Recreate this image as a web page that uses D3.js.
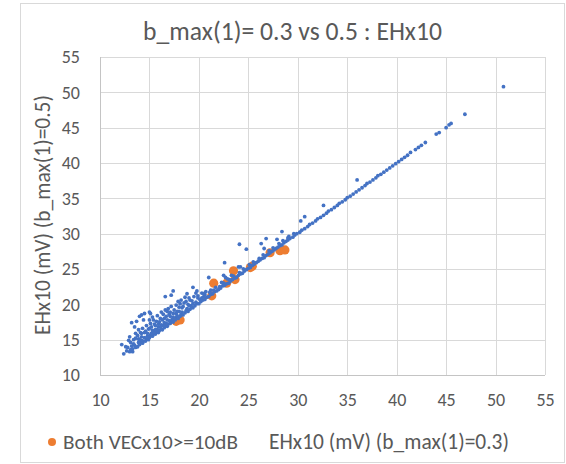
<!DOCTYPE html>
<html>
<head>
<meta charset="utf-8">
<script src="https://cdn.jsdelivr.net/npm/d3@7"></script>
<style>
  html, body { margin: 0; padding: 0; background: #fff; }
  svg { display: block; }
</style>
</head>
<body>
<svg id="chart" width="566" height="464"></svg>
<script>
// Axis ticks (both axes share the same range)
const tickValues = [10, 15, 20, 25, 30, 35, 40, 45, 50, 55];

// EHx10 (mV): [b_max(1)=0.3, b_max(1)=0.5] — points lying along the 1:1 line
const lineSet = [
  [12.4,13.0],[12.7,13.4],[13.0,13.3],[13.3,13.3],[13.3,13.7],[13.6,13.9],[13.8,14.0],[14.0,14.3],[14.1,14.6],[14.3,14.5],
  [14.4,14.8],[14.6,14.8],[14.7,15.1],[14.9,15.0],[15.0,15.3],[15.1,15.6],[15.3,15.5],[15.4,15.8],[15.6,15.8],[15.7,16.1],
  [15.9,16.0],[16.0,16.3],[16.2,16.5],[16.3,16.4],[16.5,16.7],[16.6,17.0],[16.8,16.9],[16.9,17.2],[17.1,17.3],[17.2,17.6],
  [17.4,17.5],[17.6,17.8],[17.7,18.1],[17.9,18.0],[18.1,18.3],[18.2,18.6],[18.4,18.5],[18.6,18.8],[18.7,19.1],[18.9,19.0],
  [19.1,19.3],[19.3,19.6],[19.4,19.5],[19.6,19.8],[19.8,20.1],[20.0,20.1],[20.2,20.4],[20.4,20.6],[20.6,20.7],[20.8,21.0],
  [21.0,21.1],[21.2,21.4],[21.4,21.5],[21.6,21.8],[21.8,21.9],[22.0,22.1],[22.2,22.3],[22.4,22.6],[22.6,22.7],[22.8,22.9],
  [23.0,23.0],[23.2,23.3],[23.4,23.5],[23.6,23.7],[23.8,23.8],[24.0,24.1],[24.2,24.3],[24.4,24.4],[24.6,24.7],[24.8,24.9],
  [25.0,25.1],[25.2,25.2],[25.4,25.5],[25.6,25.7],[25.8,25.9],[26.0,26.1],[26.2,26.3],[26.4,26.5],[26.6,26.6],[26.8,26.9],
  [27.0,27.1],[27.2,27.3],[27.4,27.5],[27.6,27.7],[27.8,27.9],[28.0,28.1],[28.2,28.3],[28.4,28.4],[28.6,28.7],[28.8,28.9],
  [29.0,29.1],[29.2,29.3],[29.5,29.5],[29.7,29.8],[29.9,30.0],[30.2,30.2],[30.4,30.5],[30.7,30.7],[31.0,31.0],[31.2,31.3],
  [31.5,31.5],[31.8,31.8],[32.0,32.1],[32.3,32.3],[32.6,32.6],[32.9,32.9],[33.1,33.2],[33.4,33.4],[33.7,33.7],[34.0,34.0],
  [34.2,34.3],[34.5,34.5],[34.8,34.8],[35.0,35.1],[35.3,35.3],[35.6,35.6],[35.9,35.9],[36.2,36.2],[36.5,36.5],[36.8,36.8],
  [37.0,37.1],[37.3,37.3],[37.6,37.6],[37.9,37.9],[38.1,38.2],[38.4,38.4],[38.7,38.7],[39.0,39.0],[39.3,39.3],[39.6,39.6],
  [39.9,39.9],[40.2,40.2],[40.5,40.5],[40.8,40.8],[41.1,41.1],[41.4,41.5],[41.9,41.9],[42.2,42.2],[42.5,42.5],[42.9,42.9],
  [44.0,44.1],[44.3,44.3],[45.0,45.0],[45.3,45.4],[45.5,45.6],[46.9,46.9],[50.8,50.8]
];

// Points slightly above the 1:1 line
const nearSet = [
  [13.1,13.6],[13.5,14.2],[13.9,14.6],[14.2,14.9],[14.5,15.3],[14.8,15.5],[15.2,15.9],[15.5,16.2],[15.8,16.4],[16.1,16.8],
  [16.4,17.0],[16.7,17.3],[17.0,17.7],[17.3,17.9],[17.8,18.4],[18.3,18.9],[18.8,19.4],[19.2,19.8],[19.7,20.3],[20.1,20.7],
  [20.5,21.1],[21.1,21.7],[21.5,22.0],[22.1,22.5],[22.5,23.0],[23.1,23.5],[23.5,24.0],[24.1,24.5],[24.5,25.0],[25.1,25.6],
  [25.5,26.0],[26.1,26.5],[26.5,27.0],[27.1,27.6],[27.5,28.0],[28.1,28.6],[28.5,29.0],[29.1,29.6],[29.6,30.0],
  [12.8,13.9],[13.1,14.6],[13.4,14.4],[13.6,15.2],[13.9,15.1],[14.2,15.9],[14.5,16.0],[14.8,15.9],[15.0,16.6],[15.3,16.3],
  [15.6,17.0],[15.9,17.2],[16.2,17.1],[16.5,18.0],[16.8,17.8],[17.1,18.9],[17.4,18.2],[17.7,18.7],[18.0,19.0],[18.4,19.7],
  [18.7,20.4],[19.0,19.8],[19.4,20.1],[19.9,21.2],[20.3,20.9],[20.6,21.4],[21.2,22.0],[21.7,22.4],[22.3,23.1],[22.9,23.6],
  [23.3,24.1]
];

// Points well above the 1:1 line
const aboveSet = [
  [12.2,14.3],[12.6,14.0],[12.9,14.9],[13.0,15.4],[13.2,14.1],[13.4,15.0],[13.2,17.4],[13.5,16.8],[13.6,15.9],[13.7,17.6],
  [13.8,15.6],[13.9,16.4],[14.0,18.3],[14.0,15.0],[14.1,16.0],[14.2,18.5],[14.2,15.4],[14.3,16.6],[14.4,17.8],[14.5,18.7],
  [14.6,16.2],[14.7,17.0],[14.9,16.5],[15.0,18.9],[15.0,17.8],[15.1,17.3],[15.1,18.7],[15.2,16.8],[15.3,18.2],[15.4,17.8],
  [15.5,17.2],[15.6,16.4],[15.7,17.6],[15.8,18.4],[15.9,16.8],[16.0,17.5],[16.1,18.0],[16.2,18.9],[16.3,17.8],[16.4,18.6],
  [16.5,17.4],[16.6,19.2],[16.6,21.1],[16.7,18.3],[16.8,19.0],[16.9,19.4],[17.0,18.6],[17.1,18.3],[17.2,21.3],[17.2,19.7],
  [17.4,21.9],[17.4,18.7],[17.5,19.2],[17.7,19.9],[17.8,19.0],[17.9,20.4],[18.0,19.6],[18.1,20.1],[18.2,20.6],[18.3,19.5],
  [18.5,20.2],[18.6,21.0],[18.8,21.5],[18.9,20.0],[19.0,20.9],[19.1,20.6],[19.3,20.5],[19.4,22.4],[19.5,21.1],[19.7,21.6],
  [19.8,21.9],[19.9,20.9],[20.3,21.6],[20.5,21.5],[20.7,21.8],[21.0,23.8],[22.5,24.1],[22.7,23.8],[22.6,25.9],[24.0,25.3],
  [24.2,25.3],[24.1,28.5],[24.8,27.8],[26.3,28.6],[26.6,27.9],[26.8,29.3],[27.9,29.2],[28.4,30.3],[29.0,29.4],[30.3,31.8],
  [30.7,32.4],[32.6,34.0],[36.0,37.6]
];

// Both VECx10>=10dB
const bothX = [17.7, 18.1, 21.3, 21.5, 22.8, 23.5, 23.65, 25.2, 25.4, 27.2, 28.2, 28.7];
const bothY = [17.6, 17.8, 21.2, 23.0, 23.0, 24.75, 23.5, 25.2, 25.4, 27.3, 27.6, 27.7];

const titleText = "b_max(1)= 0.3 vs 0.5 : EHx10";
const xTitleText = "EHx10 (mV) (b_max(1)=0.3)";
const yTitleText = "EHx10 (mV) (b_max(1)=0.5)";
const legendText = "Both VECx10>=10dB";

const blue = "#4472C4", orange = "#ED7D31", textCol = "#595959", gridCol = "#d9d9d9";
const fontFamily = "Carlito, Calibri, Lato, 'Noto Sans', sans-serif";

const svg = d3.select("#chart");
const W = 566, H = 464;
const plot = { left: 100, top: 57, right: 545, bottom: 375 };

const x = d3.scaleLinear().domain([10, 55]).range([plot.left, plot.right]);
const y = d3.scaleLinear().domain([10, 55]).range([plot.bottom, plot.top]);

// Stretch a text element's font size so that it spans a given width
function fitWidth(sel, target) {
  const w = sel.node().getComputedTextLength();
  const fs = parseFloat(sel.attr("font-size"));
  if (w > 0) sel.attr("font-size", (fs * target / w).toFixed(2));
  return sel;
}

// chart frame
svg.append("rect")
  .attr("x", 20.5).attr("y", 3.5).attr("width", 544).attr("height", 459)
  .attr("fill", "#fff").attr("stroke", gridCol).attr("stroke-width", 1);

// gridlines via axes
const gx = svg.append("g")
  .attr("transform", `translate(0,${plot.bottom})`)
  .call(d3.axisBottom(x).tickValues(tickValues).tickSize(-(plot.bottom - plot.top)).tickFormat(d3.format("d")).tickPadding(18));
const gy = svg.append("g")
  .attr("transform", `translate(${plot.left},0)`)
  .call(d3.axisLeft(y).tickValues(tickValues).tickSize(-(plot.right - plot.left)).tickFormat(d3.format("d")).tickPadding(20));

[gx, gy].forEach(g => {
  g.select(".domain").remove();
  g.selectAll(".tick line").attr("stroke", gridCol).attr("stroke-width", 1)
    .attr("shape-rendering", "crispEdges");
  g.selectAll(".tick text").attr("fill", textCol)
    .attr("font-family", fontFamily).attr("font-size", 18);
});
gx.selectAll(".tick text").attr("dy", "0.71em");

// axis lines
svg.append("line").attr("x1", plot.left).attr("x2", plot.right)
  .attr("y1", plot.bottom).attr("y2", plot.bottom)
  .attr("stroke", "#c4c4c4").attr("shape-rendering", "crispEdges");
svg.append("line").attr("x1", plot.left).attr("x2", plot.left)
  .attr("y1", plot.top).attr("y2", plot.bottom)
  .attr("stroke", "#c4c4c4").attr("shape-rendering", "crispEdges");

// orange series first, blue drawn over it
svg.append("g").selectAll("circle")
  .data(d3.range(bothX.length))
  .join("circle")
  .attr("cx", i => x(bothX[i]))
  .attr("cy", i => y(bothY[i]))
  .attr("r", 4.6)
  .attr("fill", orange);

const allBlue = lineSet.concat(nearSet, aboveSet);
svg.append("g").selectAll("circle")
  .data(allBlue)
  .join("circle")
  .attr("cx", d => x(d[0]))
  .attr("cy", d => y(d[1]))
  .attr("r", 1.9)
  .attr("fill", blue);

// title
const title = svg.append("text")
  .attr("x", 292.5).attr("y", 40)
  .attr("text-anchor", "middle")
  .attr("font-family", fontFamily).attr("font-size", 24)
  .attr("fill", textCol)
  .text(titleText);
fitWidth(title, 299);

// x axis title
const xt = svg.append("text")
  .attr("x", 389).attr("y", 449)
  .attr("text-anchor", "middle")
  .attr("font-family", fontFamily).attr("font-size", 20)
  .attr("fill", textCol)
  .text(xTitleText);
fitWidth(xt, 240);

// y axis title
const yt = svg.append("text")
  .attr("transform", "translate(50,215) rotate(-90)")
  .attr("text-anchor", "middle")
  .attr("font-family", fontFamily).attr("font-size", 20)
  .attr("fill", textCol)
  .text(yTitleText);
fitWidth(yt, 240);

// legend
const legend = svg.append("g");
legend.append("circle").attr("cx", 52).attr("cy", 442).attr("r", 4).attr("fill", orange);
const lt = legend.append("text")
  .attr("x", 63).attr("y", 449)
  .attr("font-family", fontFamily).attr("font-size", 20)
  .attr("fill", textCol)
  .text(legendText);
fitWidth(lt, 175);
</script>
</body>
</html>
